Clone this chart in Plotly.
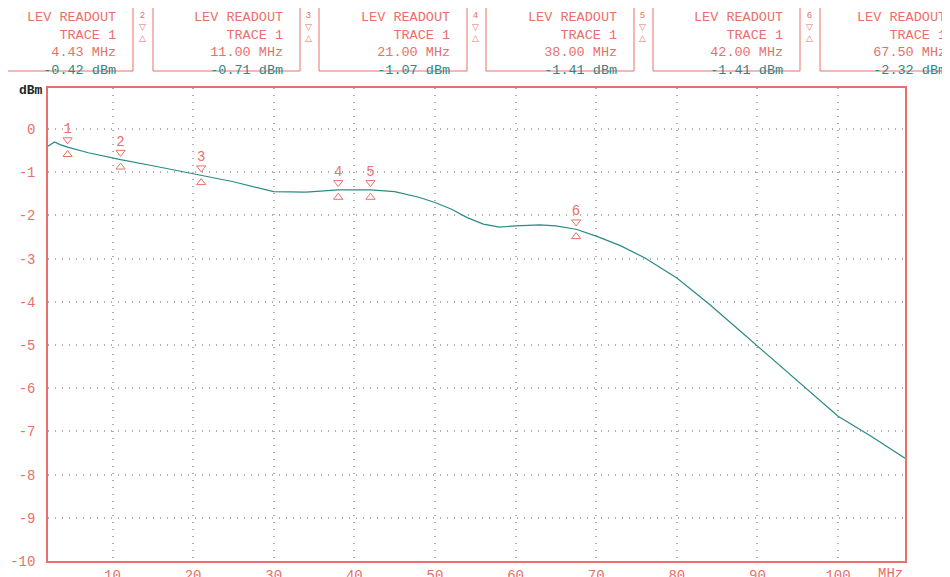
import plotly.graph_objects as go

freq = [2, 2.8, 3.5, 4.43, 7, 11, 15, 21, 25, 30, 34, 38, 42, 45, 48, 50, 52, 54, 56, 58, 60, 63, 65, 67.5, 70, 73, 76, 80, 84, 88, 92, 96, 100, 104, 108.3]
level = [-0.40, -0.30, -0.36, -0.42, -0.55, -0.71, -0.85, -1.07, -1.22, -1.45, -1.46, -1.41, -1.41, -1.45, -1.58, -1.70, -1.85, -2.05, -2.2, -2.27, -2.24, -2.22, -2.24, -2.32, -2.48, -2.7, -2.98, -3.45, -4.05, -4.7, -5.35, -6.0, -6.65, -7.1, -7.62]

mk_freq = [4.43, 11.00, 21.00, 38.00, 42.00, 67.50]
mk_level = [-0.42, -0.71, -1.07, -1.41, -1.41, -2.32]

xticks = [10, 20, 30, 40, 50, 60, 70, 80, 90, 100]
yticks = [0, -1, -2, -3, -4, -5, -6, -7, -8, -9, -10]

RED = "#e8706a"
TEAL = "#2a8a84"
GRID = "#b0b0b0"
FONT = "Liberation Mono"
L, R, T, B, W, H = 40, 53, 80, 24, 950, 577
PW, PH = W - L - R, H - T - B

def px(x):
    return (x - L) / PW

def py(y):
    return (H - B - y) / PH

fig = go.Figure()
fig.add_trace(go.Scatter(x=freq, y=level, mode="lines", line=dict(color=TEAL, width=1.2), hoverinfo="skip"))
fig.add_trace(go.Scatter(x=mk_freq, y=[v + 0.17 for v in mk_level], mode="markers",
                         marker=dict(symbol="triangle-down-open", size=8, color=RED, line=dict(width=1)), hoverinfo="skip"))
fig.add_trace(go.Scatter(x=mk_freq, y=[v - 0.17 for v in mk_level], mode="markers",
                         marker=dict(symbol="triangle-up-open", size=8, color=RED, line=dict(width=1)), hoverinfo="skip"))
fig.add_trace(go.Scatter(x=mk_freq, y=[v + 0.4 for v in mk_level], mode="text",
                         text=[str(i + 1) for i in range(len(mk_freq))],
                         textfont=dict(family=FONT, size=14, color=RED), hoverinfo="skip"))

shapes = []
annotations = []
box_x = [(-2, 125), (145, 292), (311, 459), (478, 626), (645, 792), (812, 952)]
for i, (x0, x1) in enumerate(box_x):
    shapes.append(dict(type="rect", xref="paper", yref="paper",
                       x0=px(x0), x1=px(x1), y0=py(63), y1=py(-2),
                       line=dict(color=RED, width=1)))
    txt = (f"<span style='color:{RED}'>LEV READOUT</span><br>"
           f"<span style='color:{RED}'>TRACE 1</span><br>"
           f"<span style='color:{RED}'>{mk_freq[i]:.2f} MHz</span><br>"
           f"<span style='color:{TEAL}'>{mk_level[i]:.2f} dBm</span>")
    annotations.append(dict(xref="paper", yref="paper", x=px(x1 - 15) if i < 5 else px(940),
                            y=py(0), xanchor="right", yanchor="top", align="right",
                            text=txt, showarrow=False, font=dict(family=FONT, size=13.5)))
    if i > 0:
        annotations.append(dict(xref="paper", yref="paper", x=px(x0 - 11), y=py(1),
                                xanchor="center", yanchor="top", text=f"{i+1}<br>▽<br>△", showarrow=False,
                                font=dict(family=FONT, size=9, color=RED)))

annotations.append(dict(xref="paper", yref="paper", x=px(37), y=py(82), xanchor="right", yanchor="middle",
                        text="<b>dBm</b>", showarrow=False, font=dict(family=FONT, size=13, color="#222")))
annotations.append(dict(xref="paper", yref="paper", x=px(882), y=py(566), xanchor="center", yanchor="middle",
                        text="MHz", showarrow=False, font=dict(family=FONT, size=14, color=RED)))

fig.update_layout(
    width=W, height=H, margin=dict(l=L, r=R, t=T, b=B),
    paper_bgcolor="white", plot_bgcolor="white", showlegend=False,
    shapes=shapes, annotations=annotations,
    xaxis=dict(range=[2, 108.3], tickvals=xticks, ticktext=[str(t) for t in xticks],
               showgrid=True, gridcolor=GRID, griddash="1px,6px", gridwidth=1.5,
               showline=True, linecolor=RED, linewidth=1.5, mirror=True, zeroline=False, automargin=False,
               ticks="", tickfont=dict(family=FONT, size=14, color=RED)),
    yaxis=dict(range=[-10, 0.95], tickvals=yticks, ticktext=[str(t) for t in yticks],
               showgrid=True, gridcolor=GRID, griddash="1px,6px", gridwidth=1.5,
               showline=True, linecolor=RED, linewidth=1.5, mirror=True, zeroline=False, automargin=False,
               ticks="", ticklabelstandoff=8, tickfont=dict(family=FONT, size=14, color=RED)),
)
fig.write_html("out.html")
